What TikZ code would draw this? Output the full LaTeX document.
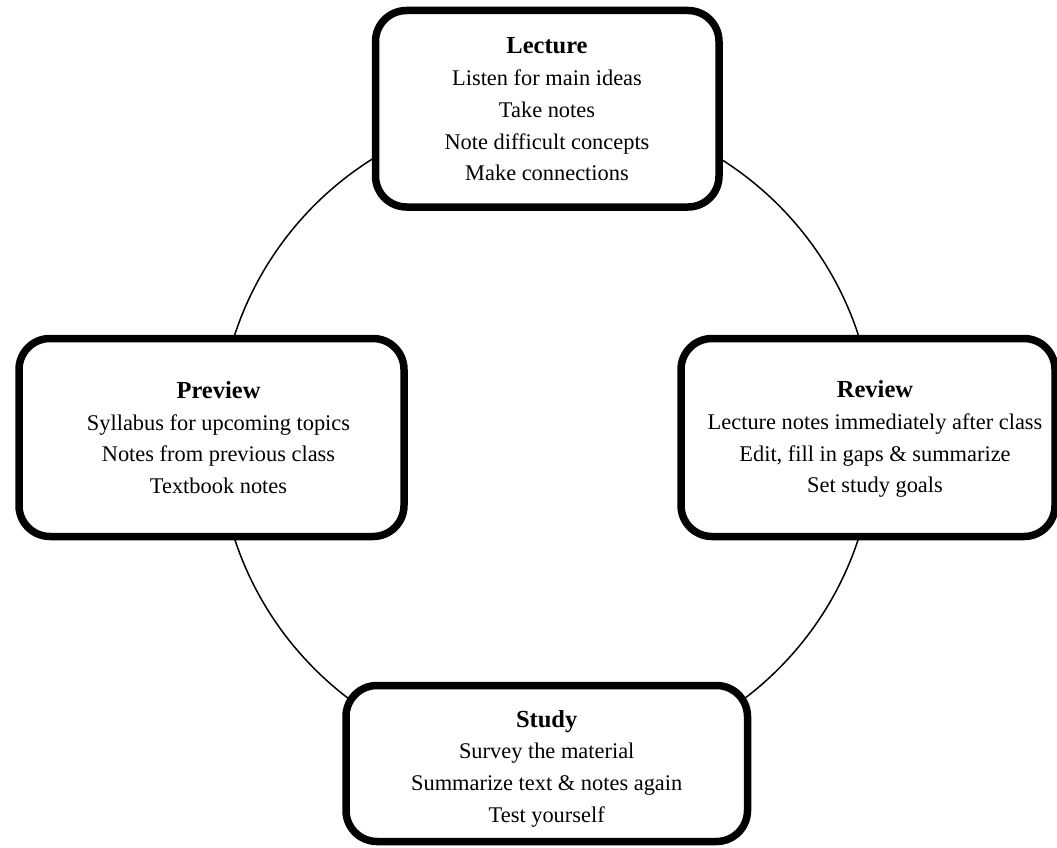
\documentclass[tikz,border=0pt]{standalone}
\usepackage{fontspec}
\setmainfont{Liberation Serif}
\usepackage{tikz}
\newcommand{\stagetitle}[1]{{\fontsize{24.5}{31.7}\selectfont\textbf{#1}}}
\tikzset{
    stage-box/.style = {draw=black, fill=white, line width=7.5pt, rectangle, rounded corners=31pt},
    stage-text/.style = {align=center, inner sep=0pt, font=\fontsize{22.4}{31.7}\selectfont},
    cycle-line/.style = {draw=black, line width=1.5pt},
}

\begin{document}
\begin{tikzpicture}[x=1pt, y=-1pt]
\useasboundingbox (0,0) rectangle (1057,848);
\coordinate (hub) at (546.5,437);
\draw[cycle-line] (hub) circle [radius=328pt];

\node[stage-box, minimum width=343.5pt, minimum height=196.5pt] (lecture-box) at (547.25,108.75) {};
\node[stage-box, minimum width=385pt, minimum height=198pt] (preview-box) at (211.5,437.5) {};
\node[stage-box, minimum width=374pt, minimum height=198pt] (review-box) at (868,437.5) {};
\node[stage-box, minimum width=401.5pt, minimum height=156pt] (study-box) at (546.75,763.5) {};

\node[stage-text] (lecture) at (547,109.4) {\stagetitle{Lecture}\\ Listen for main ideas\\ Take notes\\ Note difficult concepts\\ Make connections};
\node[stage-text] (preview) at (218.5,437.75) {\stagetitle{Preview}\\ Syllabus for upcoming topics\\ Notes from previous class\\ Textbook notes};
\node[stage-text] (review) at (875,439.3) {\stagetitle{Review}\\ Lecture notes immediately after class\\ Edit, fill in gaps \& summarize\\ Set study goals};
\node[stage-text] (study) at (546.7,768.5) {\stagetitle{Study}\\ Survey the material\\ Summarize text \& notes again\\ Test yourself};
\end{tikzpicture}
\end{document}
